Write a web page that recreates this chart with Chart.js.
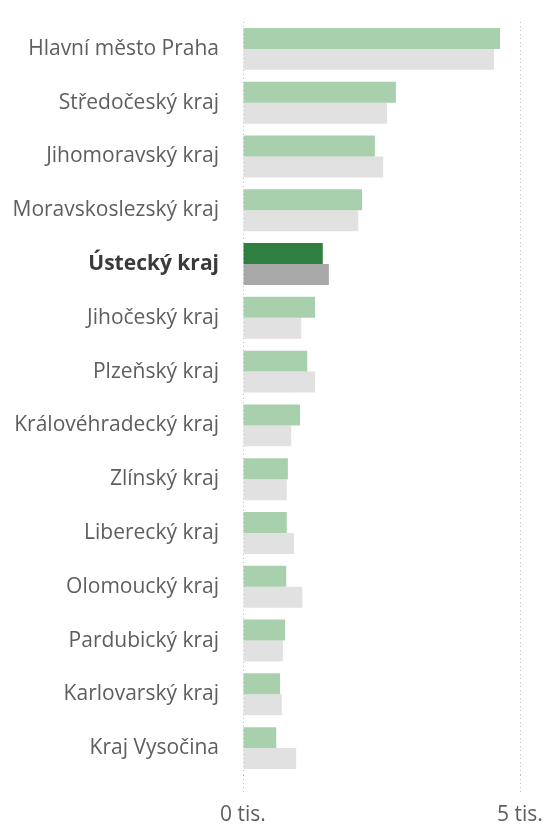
<!DOCTYPE html>
<html>
<head>
<meta charset="utf-8">
<script src="https://cdn.jsdelivr.net/npm/chart.js@4"></script>
<style>
  html, body { margin: 0; padding: 0; background: #fff; }
  #wrap { width: 546px; height: 825px; position: relative; }
</style>
</head>
<body>
<div id="wrap"><canvas id="krajChart"></canvas></div>
<script>
  const regions = [
    "Hlavní město Praha", "Středočeský kraj", "Jihomoravský kraj", "Moravskoslezský kraj",
    "Ústecký kraj", "Jihočeský kraj", "Plzeňský kraj", "Královéhradecký kraj",
    "Zlínský kraj", "Liberecký kraj", "Olomoucký kraj", "Pardubický kraj",
    "Karlovarský kraj", "Kraj Vysočina"
  ];
  // hodnoty v tisících
  const seriesGreen = [4.64, 2.76, 2.38, 2.15, 1.44, 1.30, 1.16, 1.03, 0.81, 0.79, 0.78, 0.76, 0.67, 0.60];
  const seriesGrey = [4.53, 2.60, 2.53, 2.08, 1.55, 1.05, 1.30, 0.87, 0.79, 0.92, 1.07, 0.72, 0.70, 0.96];
  const xTicks = [0, 5];
  const highlight = "Ústecký kraj";

  const hi = (i) => regions[i] === highlight;

  new Chart(document.getElementById("krajChart"), {
    type: "bar",
    data: {
      labels: regions,
      datasets: [
        {
          label: "A",
          data: seriesGreen,
          backgroundColor: regions.map((r, i) => hi(i) ? "#2f8040" : "#a9d0ad"),
          categoryPercentage: 0.78,
          barPercentage: 1,
        },
        {
          label: "B",
          data: seriesGrey,
          backgroundColor: regions.map((r, i) => hi(i) ? "#a8a8a8" : "#e1e1e1"),
          categoryPercentage: 0.78,
          barPercentage: 1,
        },
      ],
    },
    options: {
      indexAxis: "y",
      responsive: true,
      maintainAspectRatio: false,
      animation: false,
      layout: { padding: { top: 22, right: 26, left: 0, bottom: 0 } },
      plugins: {
        legend: { display: false },
        tooltip: { enabled: false },
      },
      scales: {
        x: {
          min: 0,
          max: 5,
          afterBuildTicks: (axis) => { axis.ticks = xTicks.map((v) => ({ value: v })); },
          afterFit: (axis) => {
            axis.height = 50;
            axis.paddingLeft = 0;
            axis.paddingRight = 0;
          },
          border: { display: false, dash: [1, 3] },
          grid: {
            color: "#bdbdbd",
            lineWidth: 1,
            tickLength: 20,
            tickBorderDash: [1, 3],
            tickColor: "#bdbdbd",
          },
          ticks: {
            padding: 7,
            color: "#605e5c",
            font: { family: "'Open Sans', sans-serif", size: 21 },
            callback: (v) => v + " tis.",
          },
        },
        y: {
          afterFit: (axis) => {
            axis.width = 243;
            axis.paddingTop = 0;
            axis.paddingBottom = 0;
          },
          border: { display: false },
          grid: { display: false },
          ticks: {
            padding: 16,
            color: (ctx) => ctx.index === regions.indexOf(highlight) ? "#3b3a39" : "#605e5c",
            font: (ctx) => ({
              family: "'Open Sans', sans-serif",
              size: 21,
              weight: ctx.index === regions.indexOf(highlight) ? "bold" : "normal",
            }),
          },
        },
      },
    },
  });
</script>
</body>
</html>
